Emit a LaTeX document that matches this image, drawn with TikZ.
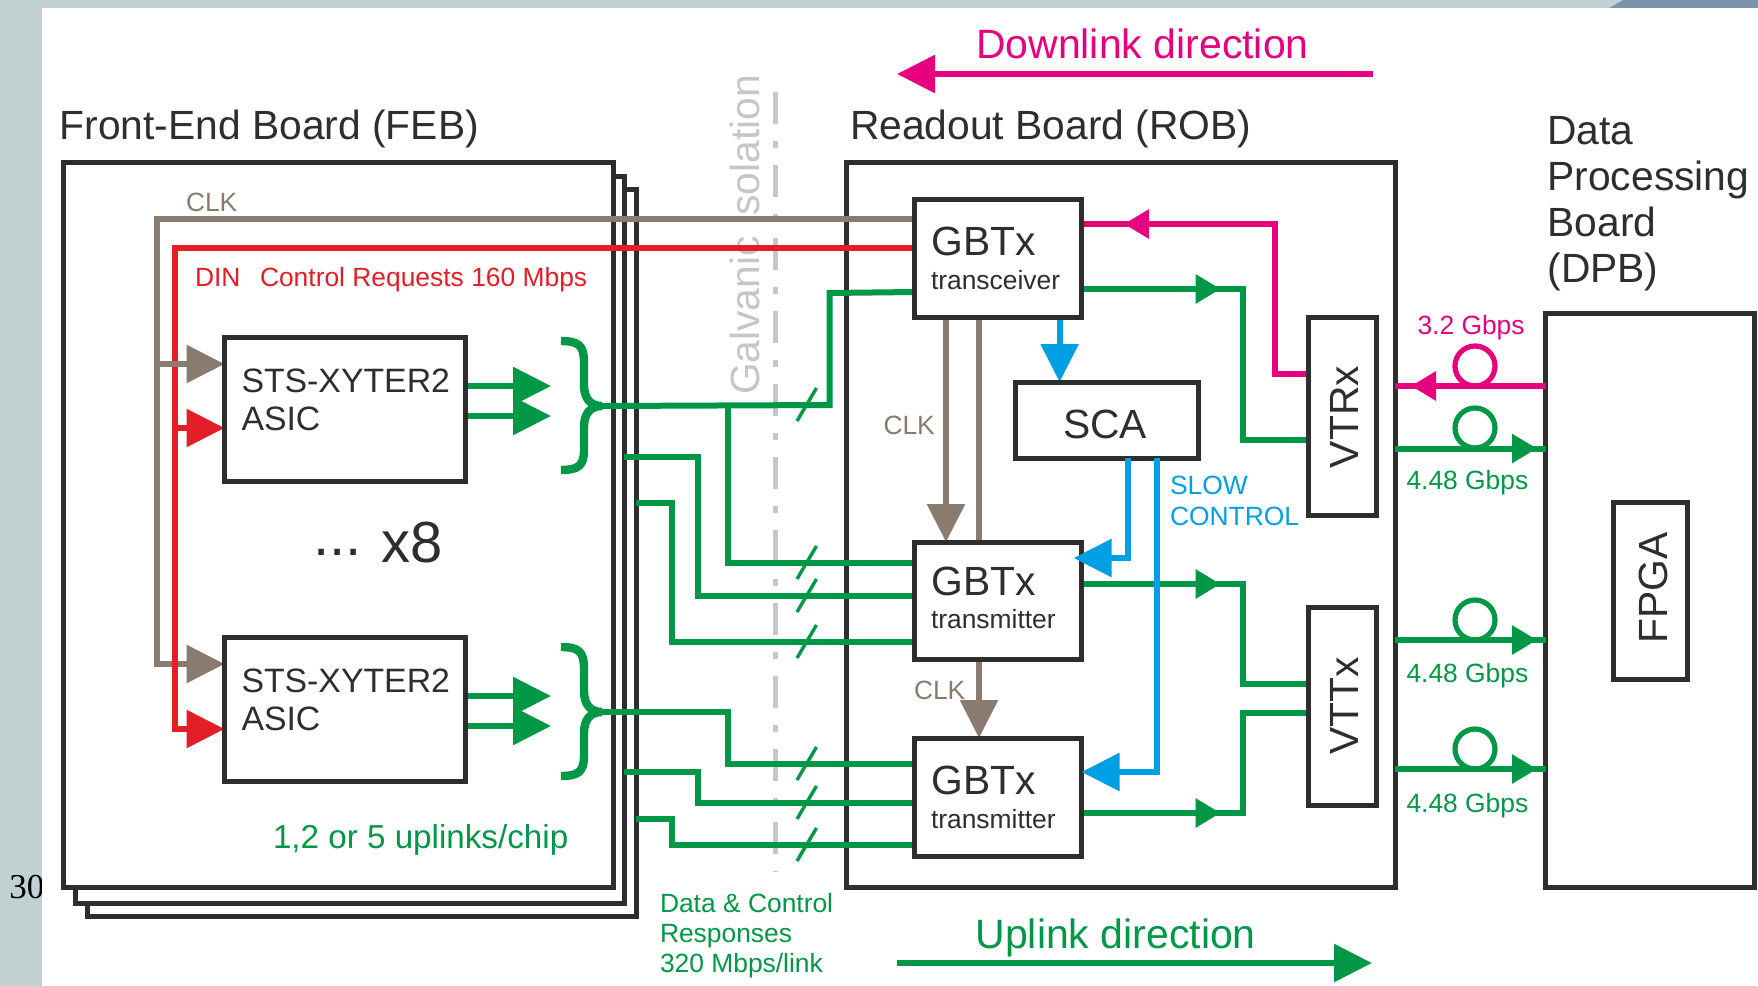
\documentclass[tikz,border=0pt]{standalone}
\usepackage{fontspec}
\setmainfont{Liberation Sans}
\newfontfamily\pagefont{Liberation Serif}
\usetikzlibrary{arrows.meta}
\pgfdeclarelayer{back}
\pgfdeclarelayer{wires}
\pgfdeclarelayer{top}
\pgfsetlayers{back,wires,main,top}
\definecolor{slidebg}{HTML}{C1D0D1}
\definecolor{slidecorner}{HTML}{7B93AD}
\definecolor{ink}{HTML}{2E2E2E}
\definecolor{wgreen}{HTML}{009846}
\definecolor{wbrown}{HTML}{8A7B70}
\definecolor{wred}{HTML}{E31E26}
\definecolor{wpink}{HTML}{E6007E}
\definecolor{wcyan}{HTML}{009FE3}
\definecolor{wgray}{HTML}{C6C6C6}
\newcommand{\pxbox}[6][]{%
  \node[boxnode,#1,minimum width={(#5-#3)*0.5pt},minimum height={(#6-#4)*0.5pt}] (#2) at ({(#3+#5)/2},{(#4+#6)/2}) {};}
\tikzset{
  x=0.5pt,y=-0.5pt,
  boxnode/.style={draw=ink,fill=white,line width=2.5pt,inner sep=0pt,outer sep=0pt},
  lbl/.style={inner sep=0pt,outer sep=0pt,anchor=base west,align=left},
  vlbl/.style={inner sep=0pt,outer sep=0pt,anchor=base,rotate=90},
  f40/.style={font=\fontsize{20.4}{23}\selectfont,text=ink},
  f33/.style={font=\fontsize{16.9}{19}\selectfont,text=ink},
  f26/.style={font=\fontsize{13.2}{15}\selectfont},
  wire/.style={line width=3pt},
  greenw/.style={wire,draw=wgreen},
  brownw/.style={wire,draw=wbrown},
  redw/.style={wire,draw=wred},
  pinkw/.style={wire,draw=wpink},
  cyanw/.style={wire,draw=wcyan},
  bigtip/.style={-{Triangle[length=19pt,width=18.5pt]}},
  midtip/.style={-{Triangle[length=12.5pt,width=14pt]}},
  slashmark/.style={draw=wgreen,line width=1.7pt},
  isoline/.style={draw=wgray,line width=2.5pt,dash pattern=on 16pt off 8.5pt on 3.5pt off 8.5pt},
  fibre/.style={line width=2.6pt,fill=none},
}
\begin{document}
\begin{tikzpicture}
\useasboundingbox (0,0) rectangle (1758,986);

% slide background
\begin{pgfonlayer}{back}
\fill[slidebg] (0,0) rectangle (1758,986);
\fill[slidecorner] (1609.5,8) -- (1623,0) -- (1758,0) -- (1758,8) -- cycle;
\node[inner sep=0pt,outer sep=0pt,anchor=base west,text=black,font=\pagefont\fontsize{17.5}{20}\selectfont] (pagenum) at (9.5,898) {30};
\fill[white] (42,8) rectangle (1758,986);

% boards
\pxbox{feb3}{87}{189}{636}{916}
\pxbox{feb2}{75}{176}{624}{903}
\pxbox{feb1}{63.5}{162}{613}{887}
\pxbox{rob}{846}{162}{1395}{887.5}
\pxbox{dpb}{1545.5}{313}{1754}{887.5}

% galvanic isolation
\node[vlbl,text=wgray,font=\fontsize{20.4}{24}\selectfont] (galv) at (759,235) {Galvanic isolation};
\coordinate (isotop) at (775.5,92);
\coordinate (isobot) at (775.5,872);
\draw[isoline] (isotop) -- (isobot);
\end{pgfonlayer}

% inner boxes
\pxbox{asic1}{224.5}{337}{465}{481}
\pxbox{asic2}{224.5}{637}{465}{781}
\pxbox{gbt1}{914}{199}{1081.5}{317}
\pxbox{gbt2}{914}{542}{1081.5}{659}
\pxbox{gbt3}{914}{738}{1081.5}{856}
\pxbox{sca}{1015}{382}{1198}{458}
\pxbox{vtrx}{1308}{317}{1376}{515}
\pxbox{vttx}{1308}{607}{1376}{805}
\pxbox{fpga}{1613}{502}{1687}{679}

% box texts
\node[lbl,f33] (asic1t) at (241.5,430) {STS-XYTER2\\ASIC};
\node[lbl,f33] (asic2t) at (241.5,730) {STS-XYTER2\\ASIC};
\node[lbl,f40] (g1a) at (931.5,255) {GBTx};
\node[lbl,f26,text=ink] (g1b) at (931,289) {transceiver};
\node[lbl,f40] (g2a) at (931.5,595) {GBTx};
\node[lbl,f26,text=ink] (g2b) at (931,628) {transmitter};
\node[lbl,f40] (g3a) at (931.5,794) {GBTx};
\node[lbl,f26,text=ink] (g3b) at (931,828) {transmitter};
\node[inner sep=0pt,anchor=base,f40] (scat) at (1105,438) {SCA};
\node[vlbl,f40] (vtrxt) at (1358,417) {VTRx};
\node[vlbl,f40] (vttxt) at (1358,706) {VTTx};
\node[vlbl,f40] (fpgat) at (1667.5,588) {FPGA};

% titles
\node[lbl,f40] (febt) at (59.5,139) {Front-End Board (FEB)};
\node[lbl,f40] (robt) at (850,139) {Readout Board (ROB)};
\node[lbl,f40,font=\fontsize{20.4}{23}\selectfont] (dpbt) at (1547.5,282) {Data\\Processing\\Board\\(DPB)};

% direction arrows
\coordinate (dnR) at (1373,74);
\coordinate (dnL) at (897,74);
\coordinate (upL) at (897,963);
\coordinate (upR) at (1372,963);
\node[lbl,text=wpink,font=\fontsize{20.5}{24}\selectfont] (dnt) at (976,58.5) {Downlink direction};
\node[lbl,text=wgreen,font=\fontsize{20.5}{24}\selectfont] (upt) at (975.5,948) {Uplink direction};
\draw[draw=wpink,line width=3pt,bigtip,wpink] (dnR) -- (dnL);
\draw[draw=wgreen,line width=3pt,bigtip,wgreen] (upL) -- (upR);

% small labels
\node[lbl,f26,text=wbrown] (clk1) at (186,211) {CLK};
\node[lbl,f26,text=wbrown] (clk2) at (883.5,434) {CLK};
\node[lbl,f26,text=wbrown] (clk3) at (914,699) {CLK};
\node[lbl,f26,text=wred] (din) at (195,286) {DIN};
\node[lbl,f26,text=wred] (ctrl) at (260,286) {Control Requests 160 Mbps};
\node[lbl,f26,text=wcyan,font=\fontsize{13.2}{15.5}\selectfont] (slow) at (1170,525) {SLOW\\CONTROL};
\node[lbl,f26,text=wpink] (r32) at (1417.5,334) {3.2 Gbps};
\node[lbl,f26,text=wgreen] (r1) at (1406.5,489) {4.48 Gbps};
\node[lbl,f26,text=wgreen] (r2) at (1406.5,682.5) {4.48 Gbps};
\node[lbl,f26,text=wgreen] (r3) at (1406.5,812) {4.48 Gbps};
\node[lbl,text=wgreen,font=\fontsize{16.6}{19}\selectfont] (upl) at (273,848) {1,2 or 5 uplinks/chip};
\node[lbl,f26,text=wgreen,font=\fontsize{13.2}{14.8}\selectfont] (resp) at (660,972) {Data \& Control\\Responses\\320 Mbps/link};
\node[lbl,text=ink,font=\fontsize{29}{32}\selectfont] (x8) at (313,562) {\raisebox{3.5pt}{...}\hspace{10pt}x8};

\begin{pgfonlayer}{wires}
% clock and data-in
\draw[brownw,bigtip] (gbt1.west|-0,219) -- (156.6,219) -- (156.6,664) -- (asic2.west|-0,664);
\draw[redw,bigtip] (gbt1.west|-0,248) -- (175,248) -- (175,729) -- (asic2.west|-0,729);
\draw[redw,bigtip] (175,428) -- (asic1.west|-0,428);
\draw[brownw,bigtip] (156.6,364) -- (asic1.west|-0,364);
\draw[brownw,bigtip] (gbt1.south-|946,0) -- (gbt2.north-|946,0);
\draw[brownw] (gbt1.south-|979,0) -- (gbt2.north-|979,0);
\draw[brownw,bigtip] (gbt2.south-|979,0) -- (gbt3.north-|979,0);

% ASIC outputs
\coordinate (a1e1) at (551,386); \coordinate (a1e2) at (551,416);
\coordinate (a2e1) at (551,696); \coordinate (a2e2) at (551,726);
\draw[greenw,bigtip] (asic1.east|-a1e1) -- (a1e1);
\draw[greenw,bigtip] (asic1.east|-a1e2) -- (a1e2);
\draw[greenw,bigtip] (asic2.east|-a2e1) -- (a2e1);
\draw[greenw,bigtip] (asic2.east|-a2e2) -- (a2e2);

% braces
\coordinate (br1) at (602,406);
\coordinate (br2) at (602,712);
\draw[draw=wgreen,line width=4.2pt] (561,341) .. controls (578,341) and (584,345) .. (584,362) -- (584,385) .. controls (584,398) and (590,406) .. (br1) .. controls (590,406) and (584,414) .. (584,427) -- (584,450) .. controls (584,466) and (578,470) .. (561,470);
\draw[draw=wgreen,line width=4.2pt] (561,647) .. controls (578,647) and (584,651) .. (584,668) -- (584,691) .. controls (584,704) and (590,712) .. (br2) .. controls (590,712) and (584,720) .. (584,733) -- (584,756) .. controls (584,772) and (578,776) .. (561,776);

% uplink bundles
\draw[greenw] (br1) -- (829.5,405) -- (829.5,293) -- (gbt1.west|-0,292);
\draw[greenw] (728,405) -- (728,563) -- (gbt2.west|-0,563);
\draw[greenw] (feb2.east|-0,457) -- (698,457) -- (698,596) -- (gbt2.west|-0,596);
\draw[greenw] (feb3.east|-0,503) -- (672,503) -- (672,642) -- (gbt2.west|-0,642);
\draw[greenw] (br2) -- (728,712) -- (728,764) -- (gbt3.west|-0,764);
\draw[greenw] (feb2.east|-0,772) -- (698,772) -- (698,803) -- (gbt3.west|-0,803);
\draw[greenw] (feb3.east|-0,819) -- (672,819) -- (672,845) -- (gbt3.west|-0,845);
\foreach \yy in {405,563,596,642,764,803,845}
  \draw[slashmark] (797,\yy+16) -- (816.5,\yy-17);

% downlink to GBTx
\coordinate (m1) at (1124,224);
\draw[pinkw] (vtrx.west|-0,374) -- (1275,374) -- (1275,224) -- (gbt1.east|-m1);
\draw[pinkw,midtip] (1275,224) -- (m1);

% uplink to optical modules
\coordinate (m2) at (1220.6,289);
\coordinate (m3) at (1220.6,584);
\coordinate (m4) at (1220.6,813);
\draw[greenw] (gbt1.east|-m2) -- (1243,289) -- (1243,440) -- (vtrx.west|-0,440);
\draw[greenw,midtip] (gbt1.east|-m2) -- (m2);
\draw[greenw] (gbt2.east|-m3) -- (1243,584) -- (1243,684) -- (vttx.west|-0,684);
\draw[greenw,midtip] (gbt2.east|-m3) -- (m3);
\draw[greenw] (gbt3.east|-m4) -- (1243,813) -- (1243,713) -- (vttx.west|-0,713);
\draw[greenw,midtip] (gbt3.east|-m4) -- (m4);

% slow control
\draw[cyanw,bigtip] (gbt1.south-|1059.6,0) -- (sca.north-|1059.6,0);

% optical fibres
\coordinate (f0) at (1411,386);
\coordinate (f1) at (1537,448.5);
\coordinate (f2) at (1537,640);
\coordinate (f3) at (1537,769);
\draw[draw=wpink,fibre] (1475,366) circle[radius=20];
\draw[draw=wgreen,fibre] (1475,428) circle[radius=20];
\draw[draw=wgreen,fibre] (1475,620) circle[radius=20];
\draw[draw=wgreen,fibre] (1475,749) circle[radius=20];
\draw[pinkw] (dpb.west|-f0) -- (rob.east|-f0);
\draw[pinkw,midtip] (dpb.west|-f0) -- (f0);
\draw[greenw] (rob.east|-f1) -- (dpb.west|-f1);
\draw[greenw,midtip] (rob.east|-f1) -- (f1);
\draw[greenw] (rob.east|-f2) -- (dpb.west|-f2);
\draw[greenw,midtip] (rob.east|-f2) -- (f2);
\draw[greenw] (rob.east|-f3) -- (dpb.west|-f3);
\draw[greenw,midtip] (rob.east|-f3) -- (f3);
\end{pgfonlayer}

\begin{pgfonlayer}{top}
\draw[cyanw,bigtip] (sca.south-|1127.5,0) -- (1127.5,558) -- (1073.6,558);
\draw[cyanw,bigtip] (sca.south-|1156.7,0) -- (1156.7,772) -- (gbt3.east|-0,772);
\end{pgfonlayer}
\end{tikzpicture}
\end{document}
